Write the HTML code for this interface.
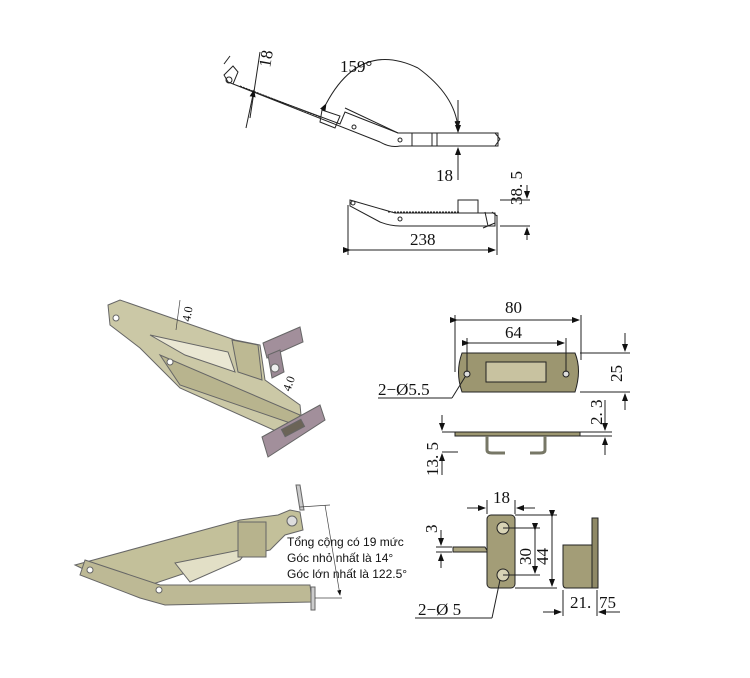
<!DOCTYPE html>
<html><head><meta charset="utf-8"><style>
html,body{margin:0;padding:0;background:#fff;}
svg{display:block}
.d{font-family:"Liberation Serif","DejaVu Serif",serif;font-size:17px;fill:#111}
.s{font-family:"Liberation Sans","DejaVu Sans",sans-serif;font-size:12px;fill:#111}
</style></head><body>
<svg width="750" height="678" viewBox="0 0 750 678" xmlns="http://www.w3.org/2000/svg">
<defs><marker id="a" markerWidth="8" markerHeight="6" refX="7" refY="3" orient="auto"><path d="M0,0L8,3L0,6z" fill="#111"/></marker></defs>
<g fill="none" stroke="#222" stroke-width="1">
<!-- top drawing -->
<path d="M224,75 L233,66 L238,72 L233,84 L340,124 L345,112 L360,118 L398,133 L498,133 L498,146 L400,146 Q390,148 380,142 L228,82 Z" fill="#fff"/>
<path d="M240,86 L320,117" stroke-dasharray="2,1"/>
<path d="M322,110 L340,116 L335,128 L320,122 Z"/>
<path d="M345,108 L398,133"/>
<path d="M412,133 V146 M432,133 V146 M437,133 V146"/>
<circle cx="229" cy="80" r="3"/><circle cx="354" cy="127" r="2"/><circle cx="400" cy="140" r="2"/>
<path d="M495,133 L500,139 L495,146"/>
<path d="M224,64 L230,56"/>
<line x1="260" y1="52" x2="250" y2="118"/><line x1="246" y1="128" x2="254" y2="90" marker-end="url(#a)"/>
<path d="M326,104 Q360,40 418,68" marker-start="url(#a)"/>
<path d="M418,68 Q455,95 458,128" marker-end="url(#a)"/>
<line x1="458" y1="100" x2="458" y2="132" marker-end="url(#a)"/><line x1="458" y1="180" x2="458" y2="148" marker-end="url(#a)"/>
<!-- second -->
<path d="M350,200 L395,213 L495,213 L495,226 L400,226 Q390,226 380,222 L350,206 Z"/>
<path d="M388,212 L460,212" stroke-dasharray="2,1"/>
<rect x="458" y="200" width="20" height="13"/>
<circle cx="353" cy="203" r="2"/><circle cx="400" cy="219" r="2"/>
<path d="M485,212 L488,226 M492,212 L497,216 M483,228 L495,223"/>
<line x1="348" y1="205" x2="348" y2="255"/><line x1="497" y1="215" x2="497" y2="255"/>
<line x1="350" y1="250" x2="495" y2="250" marker-start="url(#a)" marker-end="url(#a)"/>
<line x1="500" y1="200" x2="530" y2="200"/><line x1="500" y1="226" x2="530" y2="226"/>
<line x1="527" y1="185" x2="527" y2="198" marker-end="url(#a)"/><line x1="527" y1="240" x2="527" y2="228" marker-end="url(#a)"/>
</g>
<text class="d" x="340" y="72">159°</text>
<text class="d" x="436" y="181">18</text>
<text class="d" transform="translate(270,68) rotate(-80)">18</text>
<text class="d" x="410" y="245">238</text>
<text class="d" transform="translate(522,205) rotate(-90)">38. 5</text>

<!-- 3D top -->
<g stroke="#666" stroke-width="1">
<path d="M108,305 L120,300 L235,340 L260,345 L265,380 L300,405 L302,425 L278,432 L180,388 L140,348 L110,325 Z" fill="#cbc8a6"/>
<path d="M150,335 L228,352 L235,372 L185,355 Z" fill="#eae7d3"/>
<path d="M160,355 L300,415 L296,425 L180,385 Z" fill="#b8b48e"/>
<path d="M232,340 L258,345 L262,380 L238,372 Z" fill="#bdb993"/>
<path d="M263,343 L300,327 L303,342 L267,358 Z" fill="#a28f9b"/>
<path d="M268,355 L280,350 L284,372 L272,378 Z" fill="#9a8894"/>
<circle cx="275" cy="368" r="4" fill="#eee"/>
<path d="M262,437 L320,405 L325,420 L268,457 Z" fill="#a28f9b"/>
<rect x="282" y="424" width="22" height="8" fill="#6b6457" transform="rotate(-28 293 428)"/>
<circle cx="116" cy="318" r="3" fill="#fff"/><circle cx="170" cy="362" r="3" fill="#fff"/>
</g>
<line x1="180" y1="300" x2="176" y2="330" stroke="#444" stroke-width="0.7"/>
<text class="d" style="font-size:12px" transform="translate(190,322) rotate(-80)">4.0</text>
<text class="d" style="font-size:12px" transform="translate(290,392) rotate(-70)">4.0</text>
<!-- 3D bottom -->
<g stroke="#666" stroke-width="1">
<path d="M75,565 L240,520 L278,515 L290,510 L300,512 L303,530 L285,535 L270,550 L230,558 L150,585 L110,582 Z" fill="#c3c09a"/>
<path d="M85,560 L160,585 L310,585 L312,602 L165,605 L140,598 L80,575 Z" fill="#bdb995"/>
<path d="M175,563 L250,548 L240,560 L190,582 Z" fill="#e2dfc6"/>
<rect x="238" y="522" width="28" height="35" fill="#b7b38d"/>
<path d="M296,485 L300,510 L304,510 L300,485 Z" fill="#ccc"/>
<path d="M311,587 L315,587 L315,610 L311,610 Z" fill="#ccc"/>
<circle cx="90" cy="570" r="3" fill="#fff"/><circle cx="159" cy="590" r="3" fill="#fff"/><circle cx="292" cy="521" r="5" fill="#ddd"/>
</g>
<g stroke="#444" stroke-width="0.7" fill="none">
<line x1="300" y1="507" x2="330" y2="505"/><line x1="325" y1="505" x2="340" y2="595" marker-end="url(#a)"/><line x1="315" y1="598" x2="342" y2="598"/>
</g>
<text class="s" x="287" y="546">Tổng cộng có 19 mức</text>
<text class="s" x="287" y="562">Góc nhỏ nhất là 14°</text>
<text class="s" x="287" y="578">Góc lớn nhất là 122.5°</text>

<!-- plate 80 -->
<g stroke="#222" stroke-width="1" fill="none">
<path d="M462,353 L575,353 Q582,370 575,392 L462,392 Q455,372 462,353 Z" fill="#9c9670"/>
<rect x="486" y="362" width="60" height="20" fill="#c8c2a0"/>
<circle cx="467" cy="374" r="3" fill="#ddd"/><circle cx="566" cy="374" r="3" fill="#ddd"/>
<line x1="455" y1="315" x2="455" y2="372"/><line x1="581" y1="315" x2="581" y2="360"/>
<line x1="457" y1="320" x2="579" y2="320" marker-start="url(#a)" marker-end="url(#a)"/>
<line x1="467" y1="338" x2="467" y2="372"/><line x1="566" y1="338" x2="566" y2="372"/>
<line x1="469" y1="343" x2="564" y2="343" marker-start="url(#a)" marker-end="url(#a)"/>
<line x1="580" y1="353" x2="630" y2="353"/><line x1="580" y1="392" x2="630" y2="392"/>
<line x1="625" y1="333" x2="625" y2="351" marker-end="url(#a)"/><line x1="625" y1="410" x2="625" y2="394" marker-end="url(#a)"/>
<line x1="378" y1="398" x2="452" y2="398"/><line x1="452" y1="398" x2="465" y2="377"/>
<rect x="455" y="432" width="125" height="4" fill="#9c9670"/>
<path d="M487,436 V450 Q487,453 492,453 H505 M545,436 V450 Q545,453 540,453 H530" stroke="#776" stroke-width="3"/>
<line x1="442" y1="432" x2="458" y2="432"/><line x1="442" y1="452" x2="458" y2="452"/>
<line x1="442" y1="415" x2="442" y2="430" marker-end="url(#a)"/><line x1="442" y1="475" x2="442" y2="454" marker-end="url(#a)"/>
<line x1="580" y1="432" x2="612" y2="432"/><line x1="580" y1="436" x2="612" y2="436"/>
<line x1="605" y1="400" x2="605" y2="430" marker-end="url(#a)"/><line x1="605" y1="455" x2="605" y2="438" marker-end="url(#a)"/>
<path d="M453,547 H485 L488,552 H453 Z" fill="#aaa480"/>
<rect x="487" y="515" width="28" height="73" rx="4" fill="#a39d77"/>
<circle cx="503" cy="528" r="6" fill="#d8d3b5"/><circle cx="503" cy="575" r="6" fill="#d8d3b5"/>
<line x1="487" y1="500" x2="487" y2="514"/><line x1="515" y1="500" x2="515" y2="514"/>
<line x1="467" y1="508" x2="485" y2="508" marker-end="url(#a)"/><line x1="535" y1="508" x2="517" y2="508" marker-end="url(#a)"/>
<line x1="503" y1="528" x2="540" y2="528"/><line x1="503" y1="575" x2="540" y2="575"/>
<line x1="535" y1="530" x2="535" y2="573" marker-start="url(#a)" marker-end="url(#a)"/>
<line x1="515" y1="515" x2="557" y2="515"/><line x1="515" y1="588" x2="557" y2="588"/>
<line x1="552" y1="517" x2="552" y2="586" marker-start="url(#a)" marker-end="url(#a)"/>
<line x1="436" y1="547" x2="452" y2="547"/><line x1="436" y1="552" x2="452" y2="552"/>
<line x1="441" y1="530" x2="441" y2="545" marker-end="url(#a)"/><line x1="441" y1="568" x2="441" y2="554" marker-end="url(#a)"/>
<line x1="415" y1="618" x2="492" y2="618"/><line x1="492" y1="618" x2="500" y2="580"/>
<path d="M563,545 H592 V588 H566 Q563,588 563,584 Z" fill="#a39d77"/>
<rect x="592" y="518" width="6" height="70" fill="#8f8966"/>
<line x1="563" y1="590" x2="563" y2="616"/><line x1="597" y1="590" x2="597" y2="616"/>
<line x1="543" y1="612" x2="561" y2="612" marker-end="url(#a)"/><line x1="620" y1="612" x2="599" y2="612" marker-end="url(#a)"/>
</g>
<text class="d" x="505" y="313">80</text>
<text class="d" x="505" y="338">64</text>
<text class="d" x="378" y="395">2−Ø5.5</text>
<text class="d" transform="translate(622,382) rotate(-90)">25</text>
<text class="d" transform="translate(602,425) rotate(-90)">2. 3</text>
<text class="d" transform="translate(438,476) rotate(-90)">13. 5</text>
<text class="d" x="493" y="503">18</text>
<text class="d" transform="translate(531,565) rotate(-90)">30</text>
<text class="d" transform="translate(548,565) rotate(-90)">44</text>
<text class="d" transform="translate(437,533) rotate(-90)">3</text>
<text class="d" x="418" y="615">2−Ø 5</text>
<text class="d" x="570" y="608">21.</text><text class="d" x="599" y="608">75</text>
</svg>
</body></html>
